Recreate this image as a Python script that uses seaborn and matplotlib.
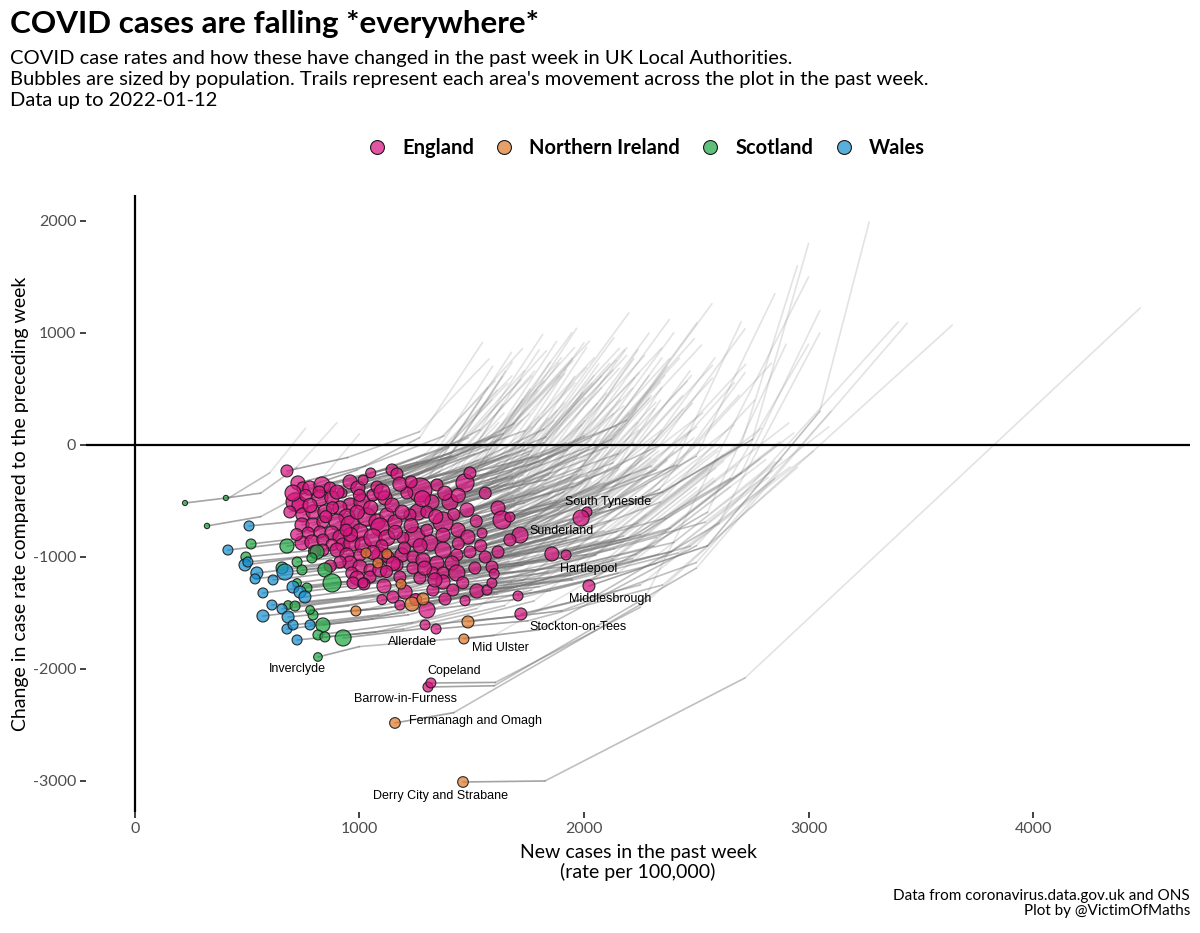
import matplotlib
matplotlib.use('Agg')
import numpy as np
import pandas as pd
import matplotlib.pyplot as plt
import seaborn as sns
from matplotlib.collections import LineCollection
from matplotlib.lines import Line2D

sns.set_theme(style='white')
plt.rcParams['font.family'] = ['Lato', 'DejaVu Sans']
plt.rcParams['axes.unicode_minus'] = False
plt.rcParams['text.color'] = 'black'
plt.rcParams['axes.labelcolor'] = 'black'

# each row: x now, y now, population (k), x/y 2 days ago, 4 days ago, 7 days ago
england = [
    (677, -232, 260, 947, -112, 1267, 118, 1577, 768),
    (726, -339, 370, 1026, -189, 1376, 81, 1726, 861),
    (713, -509, 630, 983, -389, 1303, -159, 1613, 491),
    (748, -384, 260, 988, -224, 1268, 66, 1548, 916),
    (779, -384, 370, 1049, -264, 1369, -34, 1679, 616),
    (833, -357, 490, 1133, -207, 1483, 63, 1833, 843),
    (869, -384, 260, 1139, -264, 1459, -34, 1769, 616),
    (824, -473, 490, 1184, -303, 1604, 17, 2024, 927),
    (877, -473, 370, 1117, -313, 1397, -23, 1677, 827),
    (922, -429, 170, 1192, -309, 1512, -79, 1822, 571),
    (958, -330, 370, 1258, -180, 1608, 90, 1958, 870),
    (993, -384, 370, 1263, -264, 1583, -34, 1893, 616),
    (1016, -313, 170, 1256, -153, 1536, 137, 1816, 987),
    (958, -536, 370, 1318, -366, 1738, -46, 2158, 864),
    (1011, -509, 490, 1311, -359, 1661, -89, 2011, 691),
    (1060, -447, 260, 1330, -327, 1650, -97, 1960, 553),
    (1078, -375, 260, 1318, -215, 1598, 75, 1878, 925),
    (1114, -473, 370, 1414, -323, 1764, -53, 2114, 727),
    (1145, -223, 260, 1415, -103, 1735, 127, 2045, 777),
    (1167, -259, 260, 1407, -99, 1687, 191, 1967, 1041),
    (735, -536, 490, 1035, -386, 1385, -116, 1735, 664),
    (690, -598, 260, 960, -478, 1280, -248, 1590, 402),
    (748, -625, 370, 1108, -455, 1528, -135, 1948, 775),
    (793, -598, 370, 1033, -438, 1313, -148, 1593, 702),
    (846, -598, 370, 1176, -408, 1566, -38, 1946, 1002),
    (913, -563, 370, 1213, -413, 1563, -143, 1913, 637),
    (944, -643, 490, 1304, -473, 1724, -153, 2144, 757),
    (1033, -643, 630, 1363, -453, 1753, -83, 2133, 957),
    (1078, -688, 490, 1378, -538, 1728, -268, 2078, 512),
    (1122, -625, 370, 1362, -465, 1642, -175, 1922, 675),
    (1145, -536, 370, 1505, -366, 1925, -46, 2345, 864),
    (744, -714, 370, 1014, -594, 1334, -364, 1644, 286),
    (793, -714, 370, 1093, -564, 1443, -294, 1793, 486),
    (837, -688, 260, 1077, -528, 1357, -238, 1637, 612),
    (900, -688, 490, 1230, -498, 1620, -128, 2000, 912),
    (958, -714, 630, 1318, -544, 1738, -224, 2158, 686),
    (1002, -777, 490, 1302, -627, 1652, -357, 2002, 423),
    (1091, -732, 630, 1421, -542, 1811, -172, 2191, 868),
    (771, -786, 260, 1011, -626, 1291, -336, 1571, 514),
    (824, -777, 260, 1094, -657, 1414, -427, 1724, 223),
    (877, -786, 370, 1237, -616, 1657, -296, 2077, 614),
    (913, -822, 370, 1213, -672, 1563, -402, 1913, 378),
    (744, -875, 370, 984, -715, 1264, -425, 1544, 425),
    (788, -866, 370, 1118, -676, 1508, -306, 1888, 734),
    (837, -848, 260, 1197, -678, 1617, -358, 2037, 552),
    (877, -893, 260, 1177, -743, 1527, -473, 1877, 307),
    (926, -893, 370, 1166, -733, 1446, -443, 1726, 407),
    (966, -875, 490, 1296, -685, 1686, -315, 2066, 725),
    (1016, -893, 490, 1376, -723, 1796, -403, 2216, 507),
    (1060, -830, 630, 1360, -680, 1710, -410, 2060, 370),
    (1122, -830, 490, 1452, -640, 1842, -270, 2222, 770),
    (837, -938, 260, 1077, -778, 1357, -488, 1637, 362),
    (900, -938, 370, 1260, -768, 1680, -448, 2100, 462),
    (944, -982, 370, 1274, -792, 1664, -422, 2044, 618),
    (1002, -982, 260, 1302, -832, 1652, -562, 2002, 218),
    (1091, -982, 490, 1451, -812, 1871, -492, 2291, 418),
    (958, -1054, 370, 1338, -964, 1808, -724, 2308, 46),
    (1002, -1089, 370, 1422, -979, 1952, -689, 2502, 161),
    (1047, -1116, 260, 1397, -1046, 1847, -836, 2297, -116),
    (966, -1143, 260, 1346, -1053, 1816, -813, 2316, -43),
    (913, -1045, 260, 1263, -975, 1713, -765, 2163, -45),
    (1127, -1000, 260, 1457, -810, 1847, -440, 2227, 600),
    (989, -1188, 370, 1409, -1078, 1939, -788, 2489, 62),
    (971, -1232, 260, 1351, -1142, 1821, -902, 2321, -132),
    (1047, -1179, 260, 1397, -1109, 1847, -899, 2297, -179),
    (1269, -402, 1140, 1569, -252, 1919, 18, 2269, 798),
    (1345, -357, 260, 1615, -237, 1935, -7, 2245, 643),
    (1470, -339, 630, 1800, -149, 2190, 221, 2570, 1261),
    (1492, -250, 260, 1792, -100, 2142, 170, 2492, 950),
    (1211, -429, 260, 1451, -269, 1731, 21, 2011, 871),
    (1323, -509, 370, 1683, -339, 2103, -19, 2523, 891),
    (1403, -509, 490, 1733, -319, 2123, 51, 2503, 1091),
    (1479, -580, 370, 1779, -430, 2129, -160, 2479, 620),
    (1260, -598, 490, 1530, -478, 1850, -248, 2160, 402),
    (1158, -688, 370, 1398, -528, 1678, -238, 1958, 612),
    (1225, -625, 260, 1585, -455, 2005, -135, 2425, 775),
    (1300, -598, 260, 1630, -408, 2020, -38, 2400, 1002),
    (1372, -688, 780, 1732, -518, 2152, -198, 2572, 712),
    (1439, -759, 370, 1739, -609, 2089, -339, 2439, 441),
    (1483, -822, 370, 1813, -632, 2203, -262, 2583, 778),
    (1546, -786, 170, 1786, -626, 2066, -336, 2346, 514),
    (1617, -563, 370, 1947, -373, 2337, -3, 2717, 1037),
    (1635, -670, 630, 1995, -500, 2415, -180, 2835, 730),
    (1670, -643, 170, 1970, -493, 2320, -223, 2670, 557),
    (1247, -822, 780, 1577, -632, 1967, -262, 2347, 778),
    (1314, -875, 490, 1614, -725, 1964, -455, 2314, 325),
    (1194, -830, 260, 1434, -670, 1714, -380, 1994, 470),
    (1372, -804, 370, 1732, -634, 2152, -314, 2572, 596),
    (1189, -982, 370, 1519, -792, 1909, -422, 2289, 618),
    (1238, -1000, 260, 1538, -850, 1888, -580, 2238, 200),
    (1283, -1027, 370, 1643, -857, 2063, -537, 2483, 373),
    (1372, -938, 490, 1702, -748, 2092, -378, 2472, 662),
    (1434, -982, 260, 1674, -822, 1954, -532, 2234, 318),
    (1492, -955, 260, 1852, -785, 2272, -465, 2692, 445),
    (1617, -955, 260, 1947, -765, 2337, -395, 2717, 645),
    (1238, -1098, 260, 1618, -1008, 2088, -768, 2588, 2),
    (1167, -1072, 260, 1587, -962, 2117, -672, 2667, 178),
    (1345, -1054, 370, 1695, -984, 2145, -774, 2595, -54),
    (1412, -1054, 370, 1832, -944, 2362, -654, 2912, 196),
    (1327, -1143, 260, 1707, -1053, 2177, -813, 2677, -43),
    (1372, -1143, 260, 1722, -1073, 2172, -863, 2622, -143),
    (1434, -1143, 490, 1854, -1033, 2384, -743, 2934, 107),
    (1514, -1098, 260, 1894, -1008, 2364, -768, 2864, 2),
    (1590, -1089, 260, 2010, -979, 2540, -689, 3090, 161),
    (1180, -1179, 260, 1530, -1109, 1980, -899, 2430, -179),
    (1269, -1188, 260, 1649, -1098, 2119, -858, 2619, -88),
    (1523, -1304, 370, 1943, -1194, 2473, -904, 3023, -54),
    (1568, -1295, 170, 1948, -1205, 2418, -965, 2918, -195),
    (1590, -1232, 170, 1940, -1162, 2390, -952, 2840, -232),
    (1381, -1375, 260, 1801, -1265, 2331, -975, 2881, -125),
    (1327, -1295, 260, 1677, -1225, 2127, -1015, 2577, -295),
    (1301, -1473, 490, 1681, -1383, 2151, -1143, 2651, -373),
    (1372, -1223, 370, 1792, -1113, 2322, -823, 2872, 27),
    (1336, -1205, 370, 1686, -1135, 2136, -925, 2586, -205),
    (1020, -1241, 260, 1400, -1151, 1870, -911, 2370, -141),
    (1109, -1259, 370, 1529, -1149, 2059, -859, 2609, -9),
    (1149, -1357, 260, 1499, -1287, 1949, -1077, 2399, -357),
    (1203, -1313, 370, 1583, -1223, 2053, -983, 2553, -213),
    (1180, -1429, 170, 1600, -1319, 2130, -1029, 2680, -179),
    (1292, -1607, 170, 1700, -1530, 2250, -1250, 2850, -300),
    (1341, -1643, 170, 1750, -1570, 2350, -1250, 2950, -200),
    (1416, -1295, 260, 1766, -1225, 2216, -1015, 2666, -295),
    (1091, -1116, 370, 1471, -1026, 1941, -786, 2441, -16),
    (704, -429, 490, 974, -309, 1294, -79, 1604, 571),
    (1016, -1232, 170, 1436, -1122, 1966, -832, 2516, 18),
    (1100, -900, 260, 1370, -780, 1690, -550, 2000, 100),
    (1230, -720, 370, 1500, -600, 1820, -370, 2130, 280),
    (1180, -350, 370, 1480, -200, 1830, 70, 2180, 850),
    (880, -560, 260, 1120, -400, 1400, -110, 1680, 740),
    (1050, -560, 370, 1290, -400, 1570, -110, 1850, 740),
    (1300, -760, 260, 1600, -610, 1950, -340, 2300, 440),
    (1420, -620, 260, 1690, -500, 2010, -270, 2320, 380),
    (800, -950, 260, 1100, -800, 1450, -530, 1800, 250),
    (1150, -1060, 370, 1500, -990, 1950, -780, 2400, -60),
    (1520, -680, 260, 1880, -510, 2300, -190, 2720, 720),
    (1280, -480, 490, 1610, -290, 2000, 80, 2380, 1120),
    (1560, -430, 260, 1830, -310, 2150, -80, 2460, 570),
    (1050, -250, 170, 1320, -130, 1640, 100, 1950, 750),
    (1440, -450, 370, 1680, -290, 1960, 0, 2240, 850),
    (760, -450, 260, 1030, -330, 1350, -100, 1660, 550),
    (900, -420, 370, 1200, -270, 1550, 0, 1900, 780),
    (1000, -450, 260, 1240, -290, 1520, 0, 1800, 850),
    (1230, -330, 260, 1500, -210, 1820, 20, 2130, 670),
    (1380, -430, 370, 1680, -280, 2030, -10, 2380, 770),
    (850, -640, 260, 1090, -480, 1370, -190, 1650, 660),
    (990, -600, 370, 1350, -430, 1770, -110, 2190, 800),
    (1190, -600, 370, 1520, -410, 1910, -40, 2290, 1000),
    (1340, -640, 370, 1640, -490, 1990, -220, 2340, 560),
    (720, -800, 260, 990, -680, 1310, -450, 1620, 200),
    (960, -800, 370, 1200, -640, 1480, -350, 1760, 500),
    (1160, -780, 370, 1520, -610, 1940, -290, 2360, 620),
    (1270, -900, 370, 1600, -710, 1990, -340, 2370, 700),
    (1440, -880, 260, 1740, -730, 2090, -460, 2440, 320),
    (1540, -900, 260, 1780, -740, 2060, -450, 2340, 400),
    (1060, -960, 370, 1330, -840, 1650, -610, 1960, 40),
    (1200, -920, 260, 1500, -770, 1850, -500, 2200, 280),
    (870, -1080, 260, 1250, -990, 1720, -750, 2220, 20),
    (1120, -1130, 260, 1470, -1060, 1920, -850, 2370, -130),
    (1290, -1100, 370, 1710, -990, 2240, -700, 2790, 150),
    (1460, -1230, 260, 1840, -1140, 2310, -900, 2810, -130),
    (1250, -1380, 260, 1600, -1310, 2050, -1100, 2500, -380),
    (1100, -1380, 170, 1520, -1270, 2050, -980, 2600, -130),
    (1470, -1390, 170, 1850, -1300, 2320, -1060, 2820, -290),
    (1600, -1150, 170, 1950, -1080, 2400, -870, 2850, -150),
    (1560, -1000, 260, 1920, -830, 2340, -510, 2760, 400),
    (820, -420, 260, 1090, -300, 1410, -70, 1720, 580),
    (1100, -420, 490, 1430, -230, 1820, 140, 2200, 1180),
    (780, -540, 370, 1080, -390, 1430, -120, 1780, 660),
    (940, -760, 260, 1210, -640, 1530, -410, 1840, 240),
    (2013, -598, 170, 2350, -420, 2750, 50, 3000, 1800),
    (1987, -652, 490, 2300, -480, 2700, 0, 2950, 1600),
    (1715, -804, 490, 2050, -600, 2500, -100, 2850, 1350),
    (1670, -848, 260, 1980, -680, 2400, -180, 2700, 1100),
    (1857, -973, 370, 2200, -830, 2650, -300, 3000, 900),
    (1920, -982, 170, 2250, -800, 2700, -250, 3050, 1200),
    (2022, -1259, 260, 2550, -900, 3050, 300, 3270, 1990),
    (1719, -1509, 260, 2050, -1350, 2600, -700, 3050, 1000),
    (1706, -1348, 170, 2030, -1200, 2550, -600, 2900, 900),
    (1305, -2161, 170, 1600, -2150, 2500, -1100, 3440, 1090),
    (1318, -2125, 170, 1605, -2120, 2250, -1450, 3000, 1500),
]

n_ireland = [
    (1029, -964, 170, 1449, -854, 1979, -564, 2529, 286),
    (1122, -973, 170, 1502, -883, 1972, -643, 2472, 127),
    (1082, -1054, 170, 1432, -984, 1882, -774, 2332, -54),
    (1185, -1241, 170, 1605, -1131, 2135, -841, 2685, 9),
    (1234, -1420, 370, 1614, -1330, 2084, -1090, 2584, -320),
    (1283, -1375, 260, 1703, -1265, 2233, -975, 2783, -125),
    (984, -1482, 170, 1334, -1412, 1784, -1202, 2234, -482),
    (1483, -1580, 260, 1900, -1480, 2500, -1050, 3100, 300),
    (1465, -1732, 170, 1800, -1650, 2500, -900, 3400, 1100),
    (1158, -2482, 200, 1420, -2390, 2290, -1380, 3640, 1070),
    (1461, -3009, 200, 1826, -3000, 2717, -2080, 4477, 1223),
]

scotland = [
    (223, -518, 22, 420, -470, 600, -250, 760, 150),
    (405, -473, 23, 560, -430, 720, -200, 900, 200),
    (321, -723, 27, 560, -640, 800, -380, 1000, 100),
    (517, -884, 170, 897, -794, 1367, -554, 1867, 216),
    (677, -902, 370, 1097, -792, 1627, -502, 2177, 348),
    (494, -1000, 170, 844, -930, 1294, -720, 1744, 0),
    (811, -955, 370, 1191, -865, 1661, -625, 2161, 145),
    (846, -1116, 370, 1266, -1006, 1796, -716, 2346, 134),
    (878, -1232, 630, 1228, -1162, 1678, -952, 2128, -232),
    (722, -1045, 170, 1102, -955, 1572, -715, 2072, 55),
    (744, -1116, 170, 1164, -1006, 1694, -716, 2244, 134),
    (655, -1098, 260, 1005, -1028, 1455, -818, 1905, -98),
    (788, -1009, 170, 1168, -919, 1638, -679, 2138, 91),
    (722, -1232, 120, 1142, -1122, 1672, -832, 2222, 18),
    (766, -1277, 170, 1116, -1207, 1566, -997, 2016, -277),
    (682, -1429, 120, 1062, -1339, 1532, -1099, 2032, -329),
    (713, -1438, 170, 1133, -1328, 1663, -1038, 2213, -188),
    (793, -1518, 170, 1143, -1448, 1593, -1238, 2043, -518),
    (837, -1607, 370, 1217, -1517, 1687, -1277, 2187, -507),
    (815, -1696, 170, 1235, -1586, 1765, -1296, 2315, -446),
    (846, -1714, 170, 1196, -1644, 1646, -1434, 2096, -714),
    (927, -1723, 490, 1307, -1633, 1777, -1393, 2277, -623),
    (815, -1893, 120, 1000, -1800, 1600, -1700, 2300, -900),
    (780, -1473, 120, 1200, -1363, 1730, -1073, 2280, -223),
]

wales = [
    (508, -723, 170, 858, -653, 1308, -443, 1758, 277),
    (414, -938, 170, 794, -848, 1264, -608, 1764, 162),
    (490, -1071, 260, 910, -961, 1440, -671, 1990, 179),
    (503, -1045, 170, 853, -975, 1303, -765, 1753, -45),
    (543, -1143, 260, 923, -1053, 1393, -813, 1893, -43),
    (535, -1196, 170, 955, -1086, 1485, -796, 2035, 54),
    (668, -1134, 490, 1018, -1064, 1468, -854, 1918, -134),
    (615, -1205, 170, 995, -1115, 1465, -875, 1965, -105),
    (570, -1321, 170, 990, -1211, 1520, -921, 2070, -71),
    (704, -1268, 260, 1054, -1198, 1504, -988, 1954, -268),
    (735, -1313, 260, 1115, -1223, 1585, -983, 2085, -213),
    (757, -1357, 260, 1177, -1247, 1707, -957, 2257, -107),
    (610, -1429, 170, 960, -1359, 1410, -1149, 1860, -429),
    (570, -1527, 260, 950, -1437, 1420, -1197, 1920, -427),
    (655, -1464, 170, 1075, -1354, 1605, -1064, 2155, -214),
    (682, -1536, 260, 1032, -1466, 1482, -1256, 1932, -536),
    (677, -1643, 170, 1057, -1553, 1527, -1313, 2027, -543),
    (780, -1607, 170, 1200, -1497, 1730, -1207, 2280, -357),
    (722, -1741, 170, 1072, -1671, 1522, -1461, 1972, -741),
    (704, -1607, 170, 1084, -1517, 1554, -1277, 2054, -507),
]

label_names = ['South Tyneside', 'Sunderland', 'Hartlepool', 'Middlesbrough',
               'Stockton-on-Tees', 'Allerdale', 'Mid Ulster', 'Inverclyde',
               'Copeland', 'Barrow-in-Furness', 'Fermanagh and Omagh',
               'Derry City and Strabane']
label_x = [2107, 1759, 2022, 2116, 1973, 1238, 1626, 722, 1421, 1207, 1220, 1363]
label_y = [-509, -768, -1107, -1375, -1625, -1759, -1813, -2000, -2018, -2268, -2465, -3134]
label_ha = ['center', 'left', 'center', 'center', 'center', 'center', 'center',
            'center', 'center', 'center', 'left', 'center']

countries = ['England', 'Northern Ireland', 'Scotland', 'Wales']
palette = {'England': '#D6157F', 'Northern Ireland': '#E07A2E',
           'Scotland': '#22A845', 'Wales': '#1790CF'}

cols = ['x', 'y', 'pop', 'x2', 'y2', 'x4', 'y4', 'x7', 'y7']
frames = []
for name, rows in zip(countries, [england, n_ireland, scotland, wales]):
    d = pd.DataFrame(rows, columns=cols)
    d['country'] = name
    frames.append(d)
df = pd.concat(frames, ignore_index=True)

fig = plt.figure(figsize=(12, 9.33), dpi=100)
ax = fig.add_axes([86 / 1200, 1 - 812 / 933, (1190 - 86) / 1200, (812 - 195) / 933])

# trails, fading towards the older end
seg_a = [[(r.x, r.y), (r.x2, r.y2)] for r in df.itertuples()]
seg_b = [[(r.x2, r.y2), (r.x4, r.y4)] for r in df.itertuples()]
seg_c = [[(r.x4, r.y4), (r.x7, r.y7)] for r in df.itertuples()]
for segs, a in [(seg_c, 0.2), (seg_b, 0.45), (seg_a, 0.65)]:
    ax.add_collection(LineCollection(segs, colors=[(0.45, 0.45, 0.45, a)],
                                     linewidths=1.2, capstyle='round', zorder=1))

ax.axhline(0, color='black', lw=1.6, zorder=2)
ax.axvline(0, color='black', lw=1.6, zorder=2)

sns.scatterplot(data=df, x='x', y='y', hue='country', size='pop',
                sizes=(13, 300), size_norm=(20, 1140), palette=palette,
                edgecolor='black', linewidth=0.8, legend=False, ax=ax, zorder=3)
pts = ax.collections[-1]
fc = pts.get_facecolors()
fc[:, 3] = 0.72
pts.set_facecolors(fc)
pts.set_edgecolors((0.1, 0.1, 0.1, 0.9))

for name, lx, ly, ha in zip(label_names, label_x, label_y, label_ha):
    ax.text(lx, ly, name, fontsize=9, family=['Liberation Sans', 'DejaVu Sans'],
            ha=ha, va='center', color='black', zorder=4)

ax.set_xlim(-218, 4699)
ax.set_ylim(-3277, 2232)
ax.set_xticks([0, 1000, 2000, 3000, 4000])
ax.set_yticks([-3000, -2000, -1000, 0, 1000, 2000])
for s in ax.spines.values():
    s.set_visible(False)
ax.tick_params(left=True, bottom=True, length=4, width=1.3, color='#333333',
               labelcolor='#4D4D4D', labelsize=11.5, pad=3)
ax.set_xlabel('New cases in the past week\n(rate per 100,000)', fontsize=14,
              linespacing=1.15, labelpad=6)
ax.set_ylabel('Change in case rate compared to the preceding week', fontsize=14,
              labelpad=3)

fig.text(10 / 1200, 1 - 24 / 933, 'COVID cases are falling *everywhere*',
         fontsize=22.6, fontweight='bold', ha='left', va='center')
fig.text(10 / 1200, 1 - 50 / 933,
         "COVID case rates and how these have changed in the past week in UK Local Authorities.\n"
         "Bubbles are sized by population. Trails represent each area's movement across the plot in the past week.\n"
         "Data up to 2022-01-12",
         fontsize=14.5, ha='left', va='top', linespacing=1.28)

handles = [Line2D([], [], marker='o', ls='', markersize=10,
                  markerfacecolor=matplotlib.colors.to_rgba(palette[c], 0.72),
                  markeredgecolor='#1a1a1a', markeredgewidth=0.8) for c in countries]
fig.legend(handles, countries, loc='center', bbox_to_anchor=(0.534, 1 - 148 / 933),
           ncol=4, frameon=False, prop={'weight': 'bold', 'size': 14.5},
           handletextpad=0.25, columnspacing=0.5)

fig.text(1190 / 1200, 1 - 889 / 933,
         'Data from coronavirus.data.gov.uk and ONS\nPlot by @VictimOfMaths',
         fontsize=11, ha='right', va='top', linespacing=1.1)

fig.savefig('out.png', dpi=100)
